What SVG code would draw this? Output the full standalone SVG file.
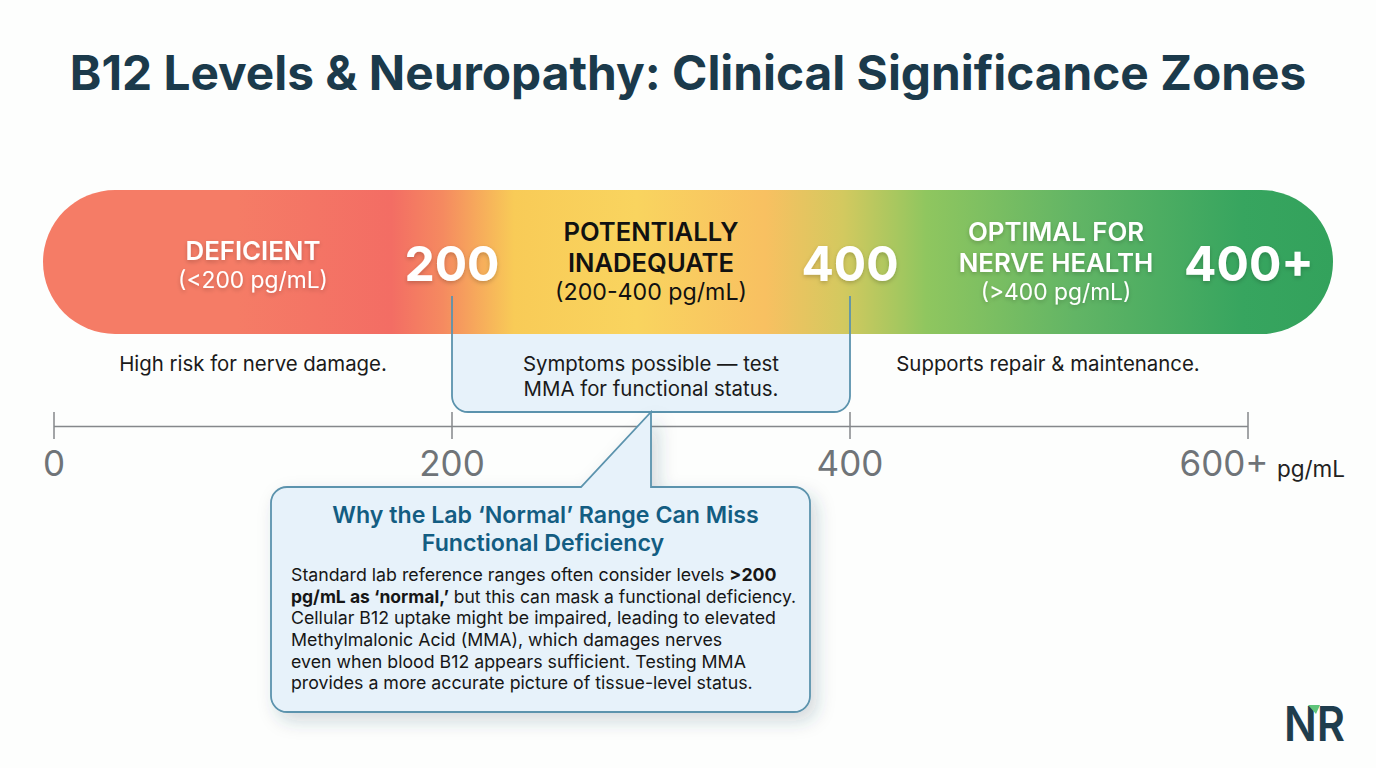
<svg xmlns="http://www.w3.org/2000/svg" width="1376" height="768" viewBox="0 0 1376 768">
<style>
text{font-family:Inter,"Liberation Sans",sans-serif;text-anchor:middle}
.zl{font-size:25.8px;font-weight:600;fill:#fff;filter:url(#ts)}
.zs{font-size:22.8px;font-weight:400;fill:#fff;filter:url(#ts)}
.zd{font-size:25.6px;font-weight:600;fill:#111}
.big{font-size:48px;font-weight:700;fill:#fff;filter:url(#ts)}
.note{font-size:20.4px;font-weight:400;fill:#1a1a1a}
.ax{font-size:35px;font-weight:400;fill:#6f7478}
.tick{stroke:#85888b;stroke-width:1.5;fill:none}
.edge{stroke:#5b93ad;stroke-width:1.8;fill:none}
.body{font-size:17.75px;font-weight:400;fill:#161616;text-anchor:start}
.hd{font-size:23.2px;font-weight:600;fill:#135d82}
</style>
<defs>
<linearGradient id="bar" x1="43" x2="1333" y1="0" y2="0" gradientUnits="userSpaceOnUse">
<stop offset="0" stop-color="#f57c66"/><stop offset="0.15" stop-color="#f57c66"/><stop offset="0.27" stop-color="#f36d64"/><stop offset="0.31" stop-color="#f58a60"/><stop offset="0.365" stop-color="#f8cb57"/><stop offset="0.46" stop-color="#f9d45f"/><stop offset="0.56" stop-color="#f8c061"/><stop offset="0.62" stop-color="#d3c95f"/><stop offset="0.685" stop-color="#8fc65f"/><stop offset="0.8" stop-color="#62b565"/><stop offset="0.93" stop-color="#37a55f"/><stop offset="1" stop-color="#33a25c"/>
</linearGradient>
<filter id="ts" x="-20%" y="-30%" width="140%" height="170%"><feDropShadow dx="0" dy="2" stdDeviation="2" flood-color="#000" flood-opacity="0.2"/></filter>
<filter id="sh" x="-10%" y="-10%" width="125%" height="125%"><feDropShadow dx="6" dy="8" stdDeviation="9" flood-color="#2a4455" flood-opacity="0.2"/></filter>
</defs>
<rect width="1376" height="768" fill="#fdfefd"/>
<text id="title" x="688" y="90" font-weight="700" fill="#1b3a4b" style="font-size:47.8px">B12 Levels &amp; Neuropathy: Clinical Significance Zones</text>

<g id="scale-bar"><rect x="43" y="190" width="1290" height="144" rx="72" fill="url(#bar)"/></g>

<g id="connectors">
<path class="tick" d="M54 426.500H1248M54 412V439M452 412V439M850 412V439M1248 412V439"/>
</g>

<g id="zone-deficient">
<text class="zl" x="253" y="260">DEFICIENT</text>
<text class="zs" x="253" y="288">(&lt;200 pg/mL)</text>
<text class="big" x="452" y="281">200</text>
<text class="note" x="253" y="371">High risk for nerve damage.</text>
</g>

<g id="callout-inadequate">
<path d="M452 334V396a16 16 0 0 0 16 16H834a16 16 0 0 0 16-16V334Z" fill="#e7f2fa"/>
<path d="M452 296V396a16 16 0 0 0 16 16H834a16 16 0 0 0 16-16V296" class="edge"/>
<text class="zd" x="651" y="241">POTENTIALLY</text>
<text class="zd" x="651" y="272">INADEQUATE</text>
<text x="651" y="300" style="font-size:23.2px;fill:#111">(200-400 pg/mL)</text>
<text class="note" x="651" y="371">Symptoms possible — test</text>
<text class="note" x="651" y="396">MMA for functional status.</text>
<text class="big" x="850" y="281">400</text>
</g>

<g id="zone-optimal">
<text class="zl" x="1056" y="241">OPTIMAL FOR</text>
<text class="zl" x="1056" y="272">NERVE HEALTH</text>
<text class="zs" x="1056" y="300">(&gt;400 pg/mL)</text>
<text class="big" x="1249" y="281">400+</text>
<text class="note" x="1048" y="371">Supports repair &amp; maintenance.</text>
</g>

<g id="axis-labels">
<text class="ax" x="54" y="476">0</text>
<text class="ax" x="452" y="476">200</text>
<text class="ax" x="850" y="476">400</text>
<text class="ax" x="1224" y="476">600+</text>
<text x="1311" y="477" style="font-size:22.5px;fill:#222">pg/mL</text>
</g>

<g id="callout-why">
<path d="M287 487H581L651 412V487H794a16 16 0 0 1 16 16V696a16 16 0 0 1-16 16H287a16 16 0 0 1-16-16V503a16 16 0 0 1 16-16Z" fill="#e7f2fa" stroke="#5b93ad" stroke-width="1.8" filter="url(#sh)"/>
<text class="hd" x="545.500" y="523">Why the Lab ‘Normal’ Range Can Miss</text>
<text class="hd" x="543" y="551">Functional Deficiency</text>
<text class="body" x="291" y="581">Standard lab reference ranges often consider levels <tspan font-weight="700">&gt;200</tspan></text>
<text class="body" x="291" y="603" textLength="505" lengthAdjust="spacingAndGlyphs"><tspan font-weight="700">pg/mL as ‘normal,’</tspan> but this can mask a functional deficiency.</text>
<text class="body" x="291" y="624">Cellular B12 uptake might be impaired, leading to elevated</text>
<text class="body" x="291" y="646">Methylmalonic Acid (MMA), which damages nerves</text>
<text class="body" x="291" y="668">even when blood B12 appears sufficient. Testing MMA</text>
<text class="body" x="291" y="689">provides a more accurate picture of tissue-level status.</text>
</g>

<g id="logo">
<text x="1284" y="741" textLength="61" lengthAdjust="spacingAndGlyphs" style="font-size:48px;font-weight:600;fill:#1f3d4d;text-anchor:start">NR</text>
<polygon points="1308,705 1320,705 1316,714" fill="#5fc47a"/>
</g>
</svg>
